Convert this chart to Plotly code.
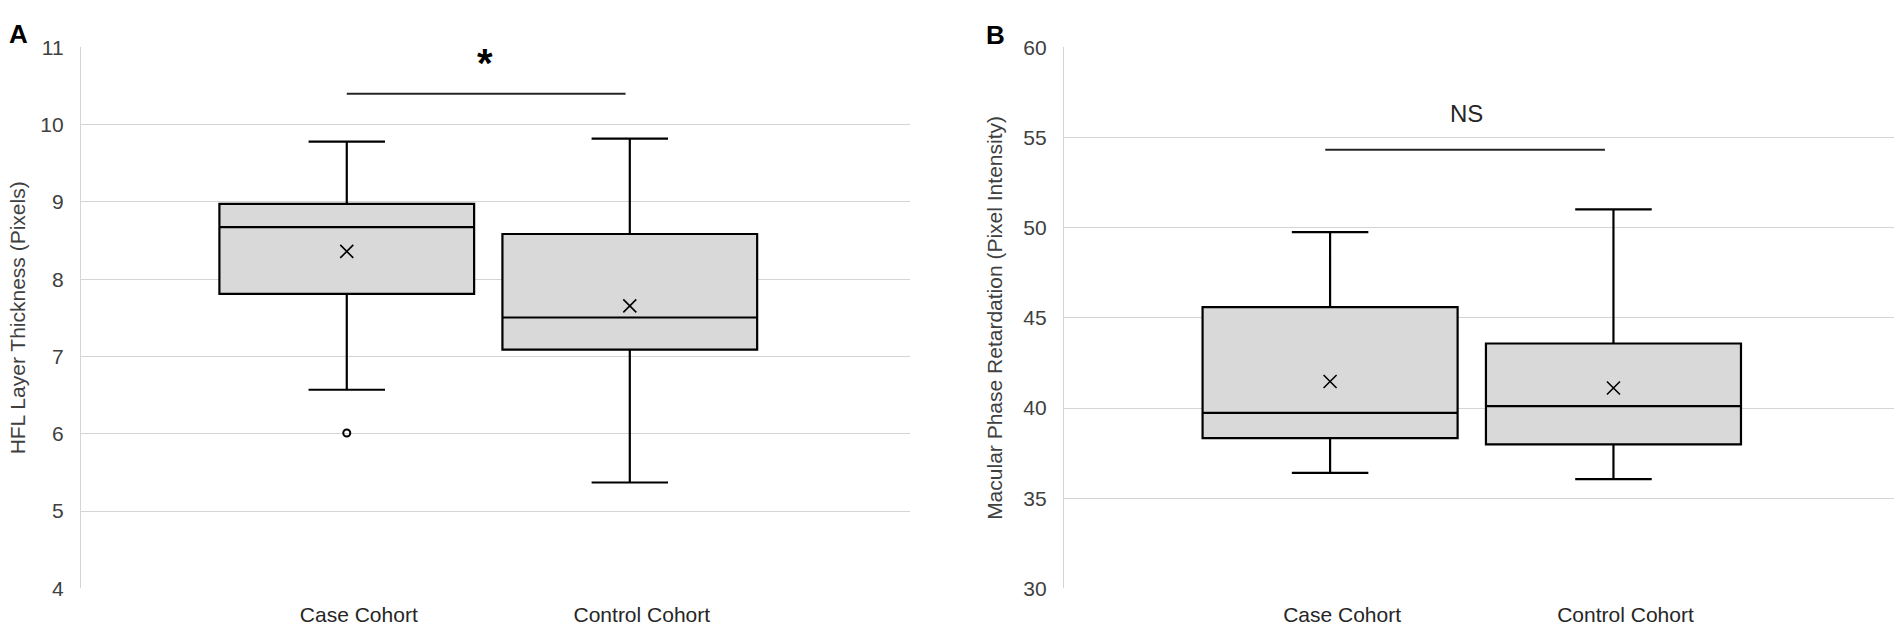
import plotly.graph_objects as go

# categories shared by both panels
categories = ["Case Cohort", "Control Cohort"]

# Panel A: HFL layer thickness (pixels)
hfl_lower = [6.57, 5.37]
hfl_q1 = [7.81, 7.09]
hfl_median = [8.675, 7.505]
hfl_q3 = [8.975, 8.585]
hfl_upper = [9.78, 9.82]
hfl_mean = [8.36, 7.655]
hfl_outlier_cat = ["Case Cohort"]
hfl_outlier_val = [6.01]
hfl_sig_y = 10.4
hfl_sig_label = "*"

# Panel B: macular phase retardation (pixel intensity)
mpr_lower = [36.4, 36.06]
mpr_q1 = [38.33, 37.99]
mpr_median = [39.73, 40.11]
mpr_q3 = [45.6, 43.58]
mpr_upper = [49.75, 51.02]
mpr_mean = [41.47, 41.11]
mpr_sig_y = 54.33
mpr_sig_label = "NS"

W, H = 1901, 644
FONT = "Liberation Sans, Arial, sans-serif"
GRID = "#d4d4d4"
TXT = "#404040"

fig = go.Figure()


def add_panel(fig, xa, ya, lower, q1, med, q3, upper, mean):
    # one box per cohort
    for i, cat in enumerate(categories):
        fig.add_trace(go.Box(
            x=[cat], lowerfence=[lower[i]], q1=[q1[i]], median=[med[i]],
            q3=[q3[i]], upperfence=[upper[i]],
            width=0.9, whiskerwidth=0.3,
            fillcolor="#d9d9d9", line=dict(color="black", width=2.2),
            boxpoints=False, xaxis=xa, yaxis=ya, showlegend=False,
        ))
    # mean markers
    fig.add_trace(go.Scatter(
        x=categories, y=mean, mode="markers",
        marker=dict(symbol="x-thin-open", size=13, color="black",
                    line=dict(color="black", width=1.6)),
        xaxis=xa, yaxis=ya, showlegend=False,
    ))


add_panel(fig, "x", "y", hfl_lower, hfl_q1, hfl_median, hfl_q3, hfl_upper, hfl_mean)
add_panel(fig, "x2", "y2", mpr_lower, mpr_q1, mpr_median, mpr_q3, mpr_upper, mpr_mean)

# outlier point in panel A
fig.add_trace(go.Scatter(
    x=hfl_outlier_cat, y=hfl_outlier_val, mode="markers",
    marker=dict(symbol="circle-open", size=7, color="black",
                line=dict(color="black", width=2)),
    xaxis="x", yaxis="y", showlegend=False,
))

ydom = [1 - 597.7 / H, 1 - 36.7 / H]
xaxis_common = dict(
    type="category", categoryorder="array", categoryarray=categories,
    range=[-0.939, 1.99], showgrid=False, zeroline=False, showline=False,
    ticks="", ticklabelshift=12, ticklabelstandoff=12,
    tickfont=dict(family=FONT, size=21, color="#262626"),
    fixedrange=True,
)
yaxis_common = dict(
    showgrid=True, gridcolor=GRID, gridwidth=1.4, zeroline=False,
    showline=True, linecolor=GRID, linewidth=1.4,
    ticks="", ticklabelstandoff=12,
    tickfont=dict(family=FONT, size=21, color=TXT),
    domain=ydom, fixedrange=True,
)

fig.update_layout(
    width=W, height=H,
    margin=dict(l=0, r=0, t=0, b=0),
    paper_bgcolor="white", plot_bgcolor="white",
    showlegend=False,
    xaxis=dict(xaxis_common, domain=[81 / W, 910 / W], anchor="y"),
    xaxis2=dict(xaxis_common, domain=[1064 / W, 1894 / W], anchor="y2"),
    yaxis=dict(yaxis_common, range=[4, 11], dtick=1, anchor="x"),
    yaxis2=dict(yaxis_common, range=[30, 60], dtick=5, anchor="x2"),
)

# significance brackets
fig.add_shape(type="line", xref="x", yref="y", x0=0, x1=0.985,
              y0=hfl_sig_y, y1=hfl_sig_y, line=dict(color="#262626", width=2))
fig.add_shape(type="line", xref="x2", yref="y2", x0=-0.017, x1=0.97,
              y0=mpr_sig_y, y1=mpr_sig_y, line=dict(color="#262626", width=2))
fig.add_annotation(xref="x", yref="y", x=0.49, y=hfl_sig_y, yshift=31,
                   text="<b>" + hfl_sig_label + "</b>", showarrow=False,
                   font=dict(family=FONT, size=40, color="black"))
fig.add_annotation(xref="x2", yref="y2", x=0.48, y=mpr_sig_y, yshift=36,
                   text=mpr_sig_label, showarrow=False,
                   font=dict(family=FONT, size=24, color="#262626"))

# y-axis titles
ymid = (ydom[0] + ydom[1]) / 2
fig.add_annotation(xref="paper", yref="paper", x=17.5 / W, y=ymid,
                   text="HFL Layer Thickness (Pixels)", textangle=-90,
                   showarrow=False, xanchor="center", yanchor="middle",
                   font=dict(family=FONT, size=21, color=TXT))
fig.add_annotation(xref="paper", yref="paper", x=995 / W, y=ymid,
                   text="Macular Phase Retardation (Pixel Intensity)", textangle=-90,
                   showarrow=False, xanchor="center", yanchor="middle",
                   font=dict(family=FONT, size=21, color=TXT))

# panel letters
fig.add_annotation(xref="paper", yref="paper", x=7 / W, y=1 - 5 / H,
                   text="<b>A</b>", showarrow=False, xanchor="left", yanchor="top",
                   font=dict(family=FONT, size=26, color="black"))
fig.add_annotation(xref="paper", yref="paper", x=984 / W, y=1 - 6 / H,
                   text="<b>B</b>", showarrow=False, xanchor="left", yanchor="top",
                   font=dict(family=FONT, size=26, color="black"))

fig.write_html("out.html", config={"displayModeBar": False},
               post_script="document.body.style.margin='0';")
